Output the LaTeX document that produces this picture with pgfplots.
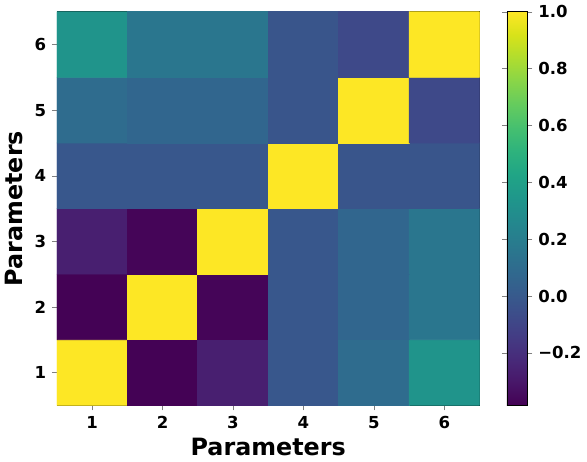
\documentclass[border=0pt]{standalone}
\usepackage{pgfplots}
\pgfplotsset{compat=1.18}
\usepackage{fontspec}
\setmainfont{DejaVu Sans}
\pgfplotstableread{
x y c
1 1 1.00
2 1 -0.38
3 1 -0.27
4 1 -0.01
5 1 0.10
6 1 0.33
1 2 -0.38
2 2 1.00
3 2 -0.37
4 2 -0.01
5 2 0.07
6 2 0.16
1 3 -0.27
2 3 -0.37
3 3 1.00
4 3 -0.01
5 3 0.07
6 3 0.16
1 4 -0.01
2 4 -0.01
3 4 -0.01
4 4 1.00
5 4 -0.02
6 4 -0.02
1 5 0.10
2 5 0.07
3 5 0.07
4 5 -0.02
5 5 1.00
6 5 -0.08
1 6 0.33
2 6 0.16
3 6 0.16
4 6 -0.02
5 6 -0.08
6 6 1.00
}\corr
\begin{document}
\begin{tikzpicture}
\begin{axis}[
  width=255.6pt, height=238pt, scale only axis,
  xmin=0.5, xmax=6.5, ymin=0.5, ymax=6.5,
  enlargelimits=false,
  xtick={1,...,6}, ytick={1,...,6},
  tick align=outside, tick pos=left,
  major tick length=3pt,
  /pgf/number format/assume math mode=true,
  tick label style={font=\bfseries\normalsize},
  label style={font=\bfseries\Large},
  xlabel={Parameters}, ylabel={Parameters},
  xlabel style={yshift=1pt},
  ylabel style={yshift=0pt},
  colormap/viridis,
  point meta min=-0.384, point meta max=1,
  colorbar,
  colorbar style={
    width=12.5pt,
    at={(parent axis.north east)}, anchor=north west, xshift=8pt,
    ytick={-0.2,0,0.2,0.4,0.6,0.8,1.0},
    yticklabels={−0.2,0.0,0.2,0.4,0.6,0.8,1.0},
    tick align=outside, major tick length=3pt,
    tick label style={font=\bfseries\normalsize},
    yticklabel pos=right,
  },
]
\addplot[matrix plot*, mesh/cols=6, point meta=explicit] table[x=x, y=y, meta=c] {\corr};
\end{axis}
\end{tikzpicture}
\end{document}
